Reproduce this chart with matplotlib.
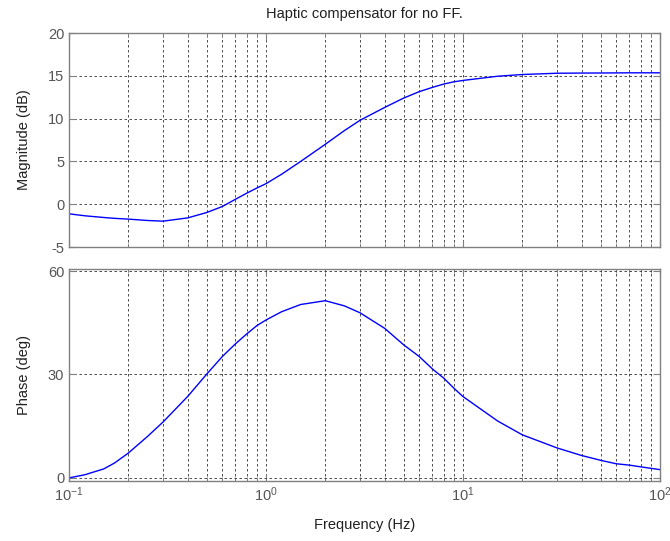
import numpy as np
import matplotlib.pyplot as plt
from matplotlib.ticker import LogLocator, NullFormatter

plt.rcParams['font.family'] = ['Liberation Sans', 'DejaVu Sans']
plt.rcParams['axes.unicode_minus'] = False

# values
freq_hz = [0.1, 0.12, 0.15, 0.17, 0.2, 0.25, 0.3, 0.4, 0.5, 0.6, 0.7, 0.8, 0.9, 1.0,
           1.2, 1.5, 2.0, 2.5, 3.0, 4.0, 5.0, 6.0, 7.0, 8.0, 9.0, 10.0, 15.0,
           20.0, 30.0, 40.0, 50.0, 60.0, 70.0, 80.0, 100.0]
magnitude_db = [-1.12, -1.35, -1.55, -1.65, -1.74, -1.9, -1.98, -1.6, -0.97, -0.27, 0.58, 1.3, 1.9, 2.4,
                3.5, 5.0, 7.0, 8.6, 9.8, 11.3, 12.4, 13.15, 13.65, 14.04, 14.3, 14.46, 14.95,
                15.15, 15.3, 15.32, 15.33, 15.34, 15.35, 15.35, 15.35]
phase_deg = [0.0, 0.9, 2.6, 4.3, 7.2, 12.0, 16.2, 23.6, 30.1, 35.2, 38.9, 41.8, 44.2, 45.8,
             48.2, 50.3, 51.4, 49.9, 47.9, 43.4, 38.6, 35.2, 31.6, 28.9, 26.0, 23.6, 16.5,
             12.5, 8.7, 6.5, 5.1, 4.1, 3.7, 3.2, 2.4]

mag_ticks = [-5, 0, 5, 10, 15, 20]
phase_ticks = [0, 30, 60]

fig = plt.figure(figsize=(6.7, 5.41), dpi=100)
ax1 = fig.add_axes([0.103, 0.5434, 0.882, 0.3956])
ax2 = fig.add_axes([0.103, 0.1109, 0.882, 0.3919])

frame = '#808080'
for ax in (ax1, ax2):
    ax.set_xscale('log')
    ax.set_xlim(0.1, 100)
    ax.xaxis.set_major_locator(LogLocator(base=10))
    ax.xaxis.set_minor_locator(LogLocator(base=10, subs=np.arange(2, 10)))
    ax.xaxis.set_minor_formatter(NullFormatter())
    ax.grid(True, which='major', axis='both', color='#303030', linestyle=(0, (3, 3)), linewidth=0.6)
    ax.grid(True, which='minor', axis='x', color='#303030', linestyle=(0, (3, 3)), linewidth=0.6)
    ax.tick_params(which='both', direction='in', top=True, right=True, colors=frame,
                   labelcolor='#555555', labelsize=10.5)
    ax.tick_params(which='major', length=5)
    ax.tick_params(which='minor', length=3)
    for s in ax.spines.values():
        s.set_color(frame)
        s.set_linewidth(1.0)
    ax.set_axisbelow(True)

ax1.plot(freq_hz, magnitude_db, color='#0000ff', linewidth=1.0)
ax1.set_ylim(-5, 20)
ax1.set_yticks(mag_ticks)
ax1.tick_params(labelbottom=False)
ax1.set_ylabel('Magnitude (dB)', fontsize=10.5, color='#202020')
ax1.set_title('Haptic compensator for no FF.', fontsize=10.5, color='#202020', pad=11)

ax2.plot(freq_hz, phase_deg, color='#0000ff', linewidth=1.0)
ax2.set_ylim(-0.9, 60.6)
ax2.set_yticks(phase_ticks)
ax2.set_ylabel('Phase (deg)', fontsize=10.5, color='#202020')
ax2.set_xlabel('Frequency (Hz)', fontsize=10.5, color='#202020', labelpad=10)

ax1.yaxis.set_label_coords(-0.065, 0.5)
ax2.yaxis.set_label_coords(-0.065, 0.5)

fig.savefig('out.png', dpi=100)
